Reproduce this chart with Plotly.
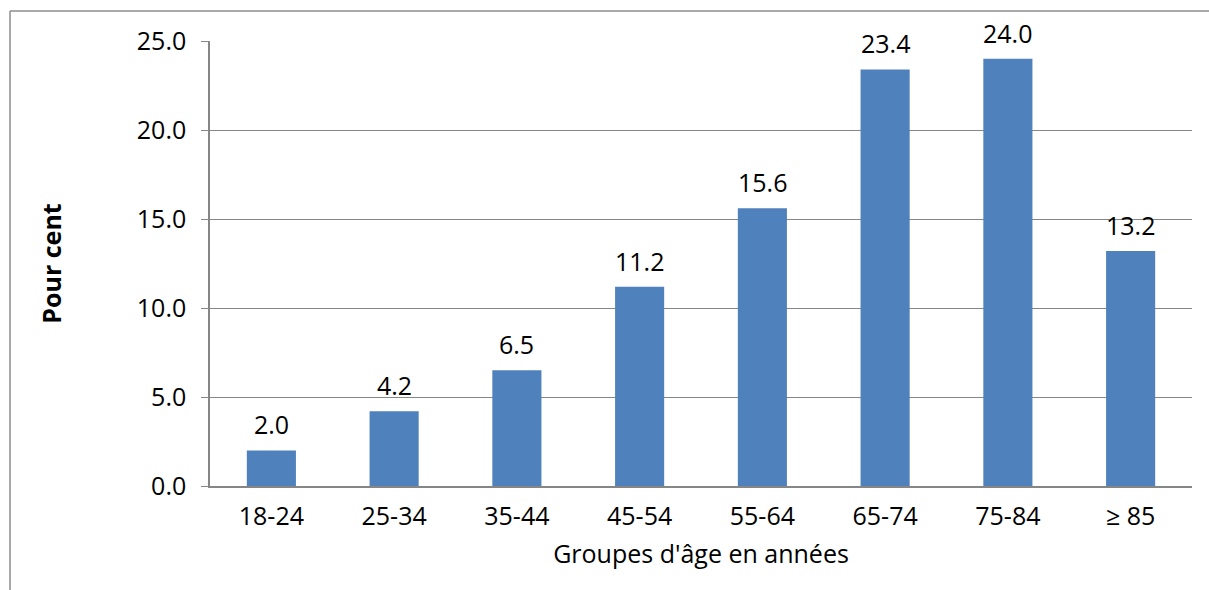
import plotly.graph_objects as go

age_groups = ["18-24", "25-34", "35-44", "45-54", "55-64", "65-74", "75-84", "≥ 85"]
percent = [2.0, 4.2, 6.5, 11.2, 15.6, 23.4, 24.0, 13.2]
y_ticks = [0, 5, 10, 15, 20, 25]
y_tick_labels = ["0.0", "5.0", "10.0", "15.0", "20.0", "25.0"]

W, H = 1209, 590
L, R, T, B = 210, 17, 41, 104
pw, ph = W - L - R, H - T - B

FONT = "Segoe UI, Open Sans, DejaVu Sans, sans-serif"
FS = 25
GRID = "#868686"

fig = go.Figure(
    go.Bar(
        x=age_groups,
        y=percent,
        marker=dict(color="#4F81BD", line=dict(width=0)),
        width=0.4,
        hoverinfo="x+y",
    )
)

# value labels above each bar
for cat, v in zip(age_groups, percent):
    fig.add_annotation(
        x=cat, y=v, text=f"{v:.1f}", showarrow=False,
        yanchor="bottom", yshift=7,
        font=dict(family=FONT, size=FS, color="#000000"),
    )

# outer frame (left and top edges of the chart box)
fx = (10 - L) / pw
fy = (H - B - 11) / ph
fig.add_shape(type="line", xref="paper", yref="paper", x0=fx, x1=fx, y0=fy, y1=-2,
              line=dict(color="#8c8c8c", width=1.5))
fig.add_shape(type="line", xref="paper", yref="paper", x0=fx, x1=2, y0=fy, y1=fy,
              line=dict(color="#8c8c8c", width=1.5))

fig.update_layout(
    width=W,
    height=H,
    margin=dict(l=L, r=R, t=T, b=B),
    paper_bgcolor="white",
    plot_bgcolor="white",
    showlegend=False,
    font=dict(family=FONT, size=FS, color="#000000"),
    xaxis=dict(
        showline=True,
        linecolor=GRID,
        linewidth=2,
        ticks="",
        ticklabelstandoff=7,
        tickfont=dict(size=FS),
        title=dict(text="Groupes d'âge en années", font=dict(size=FS), standoff=14),
    ),
    yaxis=dict(
        range=[0, 25],
        tickvals=y_ticks,
        ticktext=y_tick_labels,
        showgrid=True,
        gridcolor=GRID,
        gridwidth=1,
        showline=True,
        linecolor=GRID,
        linewidth=1.5,
        ticks="outside",
        ticklen=7,
        tickcolor=GRID,
        ticklabelstandoff=10,
        zeroline=False,
        tickfont=dict(size=FS),
        title=dict(text="<b>Pour cent</b>", font=dict(size=FS), standoff=68),
    ),
)

fig.write_html("out.html")
